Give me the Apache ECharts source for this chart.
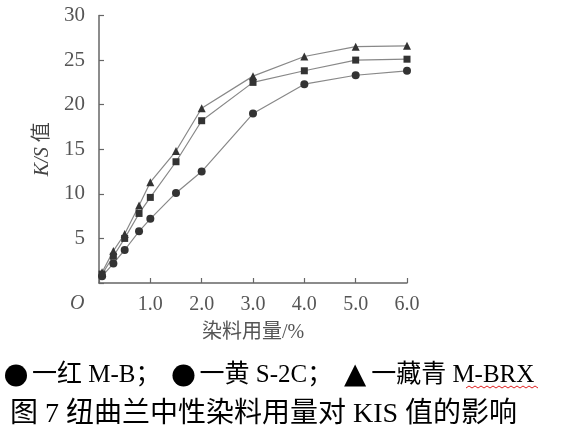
<!DOCTYPE html>
<html>
<head>
<meta charset="utf-8">
<script src="https://cdn.jsdelivr.net/npm/echarts@6/dist/echarts.min.js"></script>
<style>
  html, body { margin: 0; padding: 0; background: #fff; }
  #main { width: 564px; height: 432px; }
</style>
</head>
<body>
<div id="main"></div>
<script>
// 染料用量 /%
let dosage = [0.06, 0.28, 0.5, 0.78, 1.0, 1.5, 2.0, 3.0, 4.0, 5.0, 6.0]
// K/S 值
let redMB = [0.75, 2.2, 3.7, 5.8, 7.2, 10.1, 12.5, 19.0, 22.3, 23.3, 23.8] // 红 M-B
let yellowS2C = [1.0, 3.0, 5.0, 7.8, 9.6, 13.6, 18.2, 22.5, 23.8, 25.0, 25.1] // 黄 S-2C
let navyMBRX = [1.2, 3.6, 5.5, 8.7, 11.3, 14.8, 19.6, 23.2, 25.4, 26.5, 26.6] // 藏青 M-BRX
let seriesNames = ['红 M-B', '黄 S-2C', '藏青 M-BRX']
let xTicks = [0, 1, 2, 3, 4, 5, 6]
let yTicks = [0, 5, 10, 15, 20, 25, 30]

const serif = '"Liberation Serif", "Noto Sans CJK SC", serif'
const pairs = ys => dosage.map((x, i) => [x, ys[i]])

// 拼写检查的红色波浪线
let wave = []
for (let i = 0; i <= 24; i++) wave.push([i * 3, i % 2 ? 0 : 2])

let myChart = echarts.init(document.getElementById('main'))
myChart.setOption({
  backgroundColor: '#fff',
  animation: false,
  grid: { left: 99, right: 157, top: 15.5, bottom: 149 },
  xAxis: {
    type: 'value',
    min: xTicks[0],
    max: xTicks[xTicks.length - 1],
    interval: 1,
    name: '染料用量/%',
    nameLocation: 'middle',
    nameGap: 40,
    nameTextStyle: { color: '#555', fontSize: 20, fontFamily: serif },
    axisLine: { lineStyle: { color: '#666', width: 1.5 } },
    axisTick: { inside: true, length: 5, lineStyle: { color: '#666', width: 1.2 } },
    axisLabel: {
      color: '#555',
      fontSize: 20,
      fontFamily: serif,
      margin: 12,
      formatter: v => (v === 0 ? '' : v.toFixed(1))
    },
    splitLine: { show: false }
  },
  yAxis: {
    type: 'value',
    min: yTicks[0],
    max: yTicks[yTicks.length - 1],
    interval: 5,
    name: '{i|K/S} 值',
    nameLocation: 'middle',
    nameGap: 46,
    nameRotate: 90,
    nameTextStyle: {
      color: '#444',
      fontSize: 20,
      fontFamily: serif,
      rich: { i: { fontStyle: 'italic', fontSize: 20, color: '#444', fontFamily: serif } }
    },
    axisLine: { show: true, lineStyle: { color: '#666', width: 1.5 } },
    axisTick: { show: true, inside: true, length: 5, lineStyle: { color: '#666', width: 1.2 } },
    axisLabel: {
      color: '#555',
      fontSize: 21,
      fontFamily: serif,
      margin: 14,
      formatter: v => (v === 0 ? '' : String(v))
    },
    splitLine: { show: false }
  },
  legend: {
    left: 0,
    top: 358,
    itemGap: 12,
    itemWidth: 22,
    itemHeight: 22,
    textStyle: { color: '#000', fontSize: 25, fontFamily: serif },
    formatter: name => '一' + name + (name === seriesNames[2] ? '' : '；'),
    data: [
      { name: seriesNames[0], icon: 'circle', itemStyle: { color: '#000' } },
      { name: seriesNames[1], icon: 'circle', itemStyle: { color: '#000' } },
      { name: seriesNames[2], icon: 'triangle', itemStyle: { color: '#000' } }
    ]
  },
  graphic: [
    {
      type: 'text',
      left: 70,
      top: 294,
      style: { text: 'O', fill: '#555', fontSize: 20, fontStyle: 'italic', fontFamily: serif }
    },
    {
      type: 'polyline',
      x: 466,
      y: 386,
      shape: { points: wave },
      style: { stroke: '#e02020', lineWidth: 1, fill: null }
    },
    {
      type: 'text',
      left: 10,
      top: 401,
      style: {
        text: '图 7 纽曲兰中性染料用量对 KIS 值的影响',
        fill: '#000',
        fontSize: 28,
        fontFamily: serif
      }
    }
  ],
  series: [
    {
      name: seriesNames[0],
      type: 'line',
      data: pairs(redMB),
      symbol: 'circle',
      symbolSize: 8,
      itemStyle: { color: '#333' },
      lineStyle: { color: '#888', width: 1.2 }
    },
    {
      name: seriesNames[1],
      type: 'line',
      data: pairs(yellowS2C),
      symbol: 'rect',
      symbolSize: 7,
      itemStyle: { color: '#333' },
      lineStyle: { color: '#888', width: 1.2 }
    },
    {
      name: seriesNames[2],
      type: 'line',
      data: pairs(navyMBRX),
      symbol: 'triangle',
      symbolSize: 8,
      itemStyle: { color: '#333' },
      lineStyle: { color: '#888', width: 1.2 }
    }
  ]
})
</script>
</body>
</html>
